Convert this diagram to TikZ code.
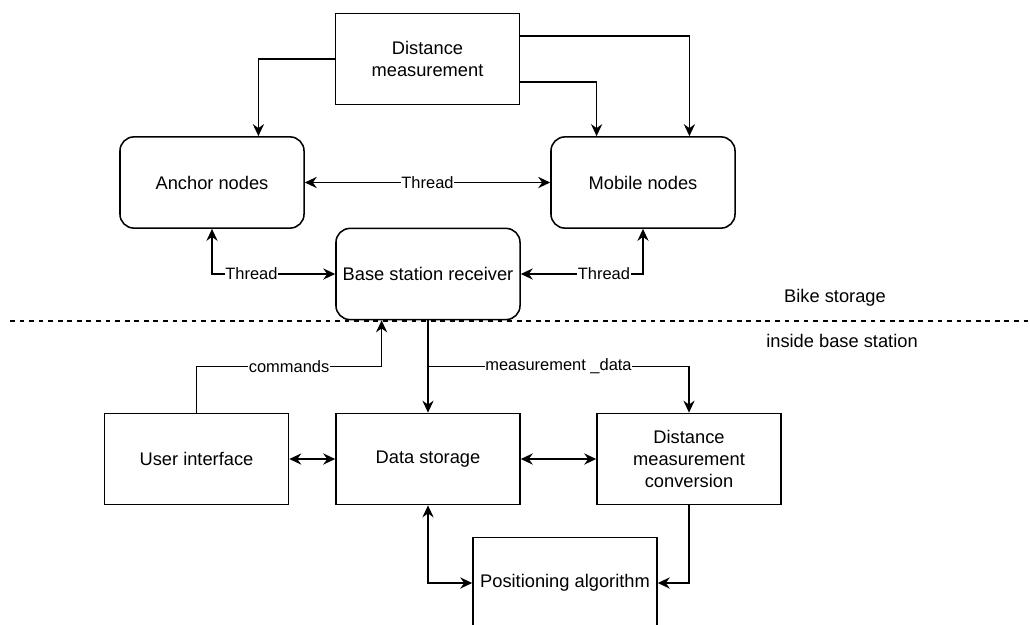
\documentclass[tikz,border=0pt]{standalone}
\usepackage{fontspec}
\setmainfont{Liberation Sans}
\usetikzlibrary{arrows.meta, positioning, calc}
\usepackage{xcolor}
\definecolor{linecolor}{RGB}{0,0,0}
\tikzset{
  box/.style    = {draw=linecolor, line width=1.1pt, fill=white, minimum width=4.6cm,
                   minimum height=2.28cm, align=center, inner sep=2pt,
                   font=\fontsize{13}{15.6}\selectfont},
  rbox/.style   = {box, rounded corners=0.35cm},
  arrow/.style  = {-{Stealth[length=3mm, width=2.8mm, inset=1mm]}, line width=1.1pt, color=linecolor},
  biarrow/.style = {{Stealth[length=3mm, width=2.8mm, inset=1mm]}-{Stealth[length=3mm, width=2.8mm, inset=1mm]},
                   line width=1.1pt, color=linecolor},
  lbl/.style    = {fill=white, inner sep=0.5pt, font=\fontsize{11.7}{14}\selectfont},
  zone/.style   = {font=\fontsize{13}{15.6}\selectfont},
}

\begin{document}
\begin{tikzpicture}[x=0.025cm, y=-0.025cm]
  \useasboundingbox (0,0) rectangle (1030,624);
  % bike storage side
  \node[box]  (dm)  at (427.5,59)  {Distance\\measurement};
  \node[rbox] (anc) at (212,182.5) {Anchor nodes};
  \node[rbox] (mob) at (643,182.5) {Mobile nodes};
  \node[rbox] (bs)  at (428,274)   {Base station receiver};
  % base station side
  \node[box] (ui)  at (196.5,459) {User interface};
  \node[box] (ds)  at (428,459)   {Data storage};
  \node[box] (dmc) at (689,459)   {Distance\\measurement\\conversion};
  \node[box] (pos) at (565,583)   {Positioning algorithm};
  % separation line
  \coordinate (dl) at (10,321);
  \coordinate (dr) at (1030,321);
  \draw[line width=1pt, dash pattern=on 3.4pt off 3.4pt] (dl) -- (dr);
  \node[zone] (top)    at (835,298) {Bike storage};
  \node[zone] (bottom) at (842,341) {inside base station};
  % connections
  \draw[arrow] (dm.west) -| ($(anc.north)!.5!(anc.north east)$);
  \draw[arrow] ($(dm.east)!.5!(dm.south east)$) -| ($(mob.north)!.5!(mob.north west)$);
  \draw[arrow] ($(dm.east)!.5!(dm.north east)$) -| ($(mob.north)!.5!(mob.north east)$);
  \draw[biarrow] (anc) -- node[lbl] {Thread} (mob);
  \draw[biarrow] (anc.south) |- node[lbl, pos=0.66] {Thread} (bs.west);
  \draw[biarrow] (mob.south) |- node[lbl, pos=0.66] {Thread} (bs.east);
  \coordinate (split) at ($(bs.south)!.5!(ds.north)$);
  \draw[arrow] (ui.north) -- (ui.north |- split) -| node[lbl, pos=0.25] {commands}
    ($(bs.south)!.5!(bs.south west)$);
  \draw[arrow] (bs) -- (ds);
  \draw[arrow] (split) -| node[lbl, pos=0.25] {measurement \_data} (dmc.north);
  \draw[biarrow] (ui) -- (ds);
  \draw[biarrow] (ds) -- (dmc);
  \draw[biarrow] (ds.south) |- (pos.west);
  \draw[arrow] (dmc.south) |- (pos.east);
\end{tikzpicture}
\end{document}
